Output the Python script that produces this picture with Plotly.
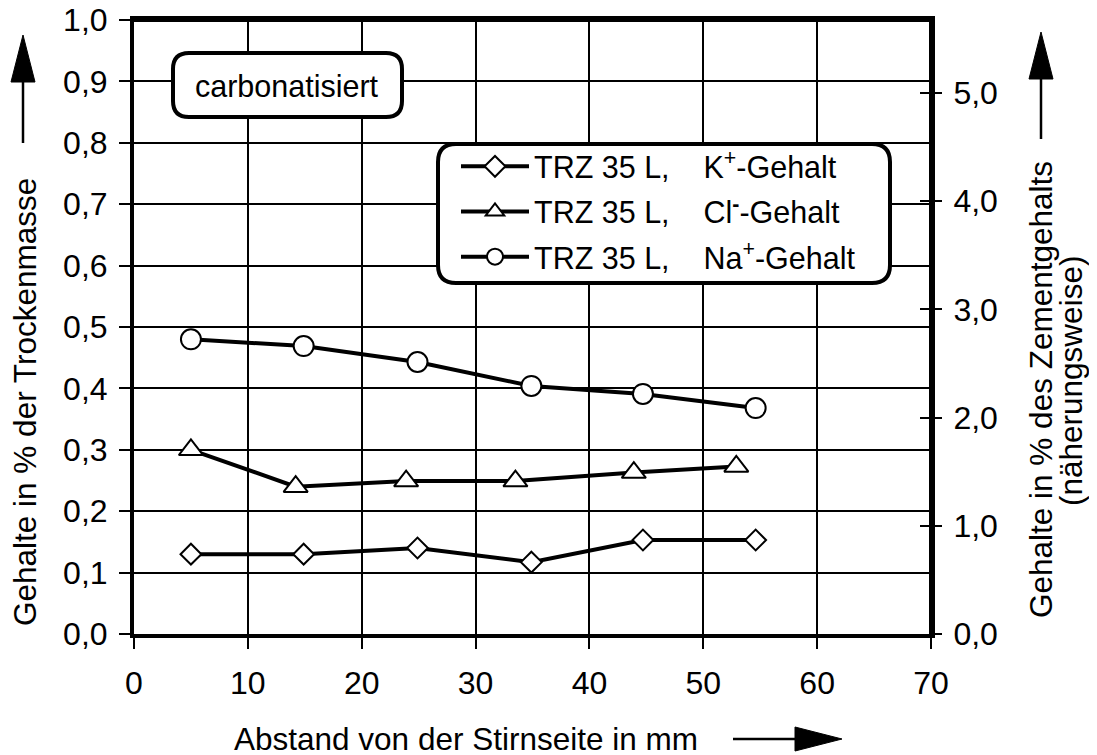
import plotly.graph_objects as go

# ---- data ----
x_k = [5.0, 14.9, 24.9, 34.9, 44.7, 54.6]
y_k = [0.130, 0.130, 0.140, 0.117, 0.153, 0.153]
x_cl = [5.0, 14.2, 23.9, 33.5, 43.9, 52.9]
y_cl = [0.300, 0.240, 0.249, 0.249, 0.263, 0.273]
x_na = [5.0, 14.9, 24.9, 34.9, 44.7, 54.6]
y_na = [0.480, 0.469, 0.443, 0.404, 0.391, 0.368]

names = ["TRZ 35 L,\u00a0\u00a0\u00a0 K<sup>+</sup>-Gehalt",
         "TRZ 35 L,\u00a0\u00a0\u00a0 Cl<sup><b>-</b></sup>-Gehalt",
         "TRZ 35 L,\u00a0\u00a0\u00a0 Na<sup>+</sup>-Gehalt"]
x_ticks = [0, 10, 20, 30, 40, 50, 60, 70]
y_ticks = [0.0, 0.1, 0.2, 0.3, 0.4, 0.5, 0.6, 0.7, 0.8, 0.9, 1.0]
y2_ticks = [0.0, 1.0, 2.0, 3.0, 4.0, 5.0]
y2_max = 5.675

FONT = "Arial, Liberation Sans, sans-serif"
FS_TICK = 32
FS_TITLE = 31.5
FS_LEG = 30.5

OFF = 8  # page body margin
# plot area in screen pixels (reference)
L, R, T, B = 134, 931, 20, 634
W, H = R - L, B - T
FIG_W, FIG_H = 1097, 755


def px(x):
    return (x - L) / W


def py(y):
    return (B - y) / H


def rounded_rect(x0, y0, x1, y1, r):
    rx, ry = r / W, r / H
    a, b = px(x0), px(x1)
    top, bot = py(y0), py(y1)
    return (f"M{a+rx},{top} L{b-rx},{top} Q{b},{top} {b},{top-ry} "
            f"L{b},{bot+ry} Q{b},{bot} {b-rx},{bot} L{a+rx},{bot} "
            f"Q{a},{bot} {a},{bot+ry} L{a},{top-ry} Q{a},{top} {a+rx},{top} Z")


fig = go.Figure()
series = [(x_k, y_k, "diamond", 16), (x_cl, y_cl, "triangle-up", 21), (x_na, y_na, "circle", 20)]
for i, ((xs, ys, sym, sz), nm) in enumerate(zip(series, names)):
    fig.add_trace(go.Scatter(
        x=xs, y=ys, mode="lines+markers", name=nm, legendgroup=f"g{i}",
        line=dict(color="black", width=4),
        marker=dict(symbol=sym, size=sz, color="white", line=dict(color="black", width=2)),
    ))

fig.add_trace(go.Scatter(x=[None], y=[None], yaxis="y2", showlegend=False, hoverinfo="skip"))
fig.add_trace(go.Scatter(x=[None], y=[None], yaxis="y3", showlegend=False, hoverinfo="skip"))

shapes = []
# frame (top and right edges)
shapes.append(dict(type="path", xref="paper", yref="paper", path="M0,1 L1,1 L1,0",
                   line=dict(color="black", width=4), layer="above"))
shapes.append(dict(type="path", xref="paper", yref="paper", path=rounded_rect(173, 53, 402, 117, 16),
                   line=dict(color="black", width=4), fillcolor="white", layer="above"))
shapes.append(dict(type="path", xref="paper", yref="paper", path=rounded_rect(438, 144, 890, 283, 18),
                   line=dict(color="black", width=4), fillcolor="white", layer="above"))
# left arrow
shapes.append(dict(type="line", xref="paper", yref="paper", x0=px(23), x1=px(23), y0=py(143), y1=py(80),
                   line=dict(color="black", width=2.5)))
shapes.append(dict(type="path", xref="paper", yref="paper",
                   path=f"M{px(23)},{py(35)} L{px(35)},{py(82)} L{px(11)},{py(82)} Z",
                   fillcolor="black", line=dict(color="black", width=1)))
# right arrow
shapes.append(dict(type="line", xref="paper", yref="paper", x0=px(1041), x1=px(1041), y0=py(139), y1=py(77),
                   line=dict(color="black", width=2.5)))
shapes.append(dict(type="path", xref="paper", yref="paper",
                   path=f"M{px(1041)},{py(32)} L{px(1053)},{py(79)} L{px(1029)},{py(79)} Z",
                   fillcolor="black", line=dict(color="black", width=1)))
# bottom arrow
shapes.append(dict(type="line", xref="paper", yref="paper", x0=px(733), x1=px(797), y0=py(739), y1=py(739),
                   line=dict(color="black", width=2.5)))
shapes.append(dict(type="path", xref="paper", yref="paper",
                   path=f"M{px(842)},{py(739)} L{px(795)},{py(727)} L{px(795)},{py(751)} Z",
                   fillcolor="black", line=dict(color="black", width=1)))


def ann(text, x, y, angle=0, size=FS_TITLE):
    return dict(text=text, xref="paper", yref="paper", x=px(x), y=py(y), showarrow=False,
                textangle=angle, font=dict(family=FONT, size=size, color="black"),
                xanchor="center", yanchor="middle")


annotations = [
    ann("carbonatisiert", 287, 86, size=FS_LEG),
    ann("Abstand von der Stirnseite in mm", 466, 739),
    ann("Gehalte in % der Trockenmasse", 25, 402, -90),
    ann("Gehalte in % des Zementgehalts", 1041, 390, -90),
    ann("(näherungsweise)", 1071, 381, -90),
]

axis_common = dict(tickcolor="black", tickwidth=2, zeroline=False, ticklabeloverflow="allow",
                   tickfont=dict(family=FONT, size=FS_TICK, color="black"))

fig.update_layout(
    width=FIG_W, height=FIG_H,
    margin=dict(l=L - OFF, r=FIG_W - (R - OFF), t=T - OFF, b=FIG_H - (B - OFF), autoexpand=False),
    paper_bgcolor="white", plot_bgcolor="white",
    separators=",.",
    font=dict(family=FONT, size=FS_TICK, color="black"),
    showlegend=True,
    legend=dict(x=px(456), y=py(140), xanchor="left", yanchor="top",
                bgcolor="rgba(0,0,0,0)", borderwidth=0,
                font=dict(family=FONT, size=FS_LEG, color="black"),
                itemwidth=68, tracegroupgap=2.5),
    xaxis=dict(range=[0, 70], tickvals=x_ticks, ticks="outside", ticklen=11,
               showgrid=True, gridcolor="black", gridwidth=2,
               showline=True, linecolor="black", linewidth=4, mirror=True,
               ticklabelstandoff=7, **axis_common),
    yaxis=dict(range=[0, 1.0], tickvals=y_ticks, tickformat=".1f", ticks="outside", ticklen=11,
               showgrid=True, gridcolor="black", gridwidth=2,
               showline=True, linecolor="black", linewidth=4, mirror=True,
               ticklabelstandoff=5, **axis_common),
    yaxis2=dict(range=[0, y2_max], tickvals=y2_ticks, tickformat=".1f", overlaying="y", side="right",
                ticks="outside", ticklen=10, showgrid=False, showline=False,
                ticklabelstandoff=5, **axis_common),
    yaxis3=dict(range=[0, y2_max], tickvals=y2_ticks, overlaying="y", side="right",
                ticks="inside", ticklen=11, showgrid=False, showline=False,
                showticklabels=False, **axis_common),
    shapes=shapes,
    annotations=annotations,
)

fig.write_html("out.html")
